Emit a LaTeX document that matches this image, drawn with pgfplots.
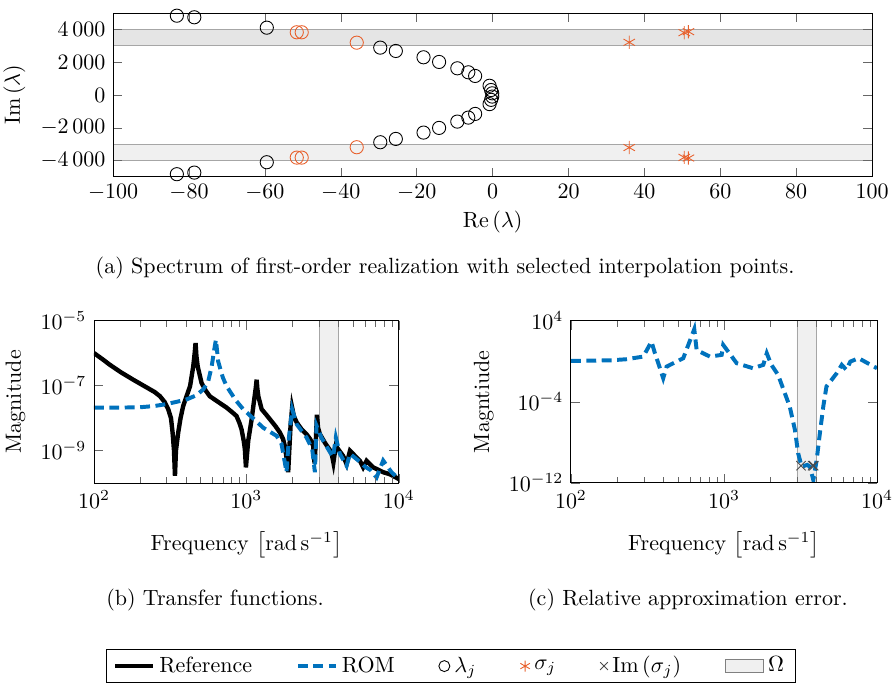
\documentclass[border=0pt]{standalone}
\usepackage{pgfplots}
\pgfplotsset{compat=1.18}
\definecolor{romblue}{HTML}{0072BD}
\definecolor{selorange}{HTML}{E8602C}

\pgfplotsset{
  every axis/.append style={scale only axis, tick style={black!60}, axis on top},
  refline/.style={black, line width=2pt},
  romline/.style={romblue, line width=1.8pt, dash pattern=on 4.5pt off 2.5pt},
}

\begin{document}
\begin{tikzpicture}
\path[use as bounding box] (0,0) rectangle (406.8pt,-311.4pt);

% (a) spectrum
\begin{axis}[
    at={(51.4pt,-80.4pt)}, anchor=south west,
    width=345pt, height=74.5pt,
    xmin=-100, xmax=100, ymin=-5000, ymax=5000,
    xtick={-100,-80,...,100}, ytick={-4000,-2000,...,4000},
    scaled y ticks=false,
    /pgf/number format/1000 sep={\,},
    xlabel={$\mathrm{Re}\left(\lambda\right)$},
    ylabel={$\mathrm{Im}\left(\lambda\right)$},
    xlabel style={yshift=2pt},
]
\addplot[draw=gray!70, fill=gray!20, forget plot]
  coordinates {(-100,3000) (100,3000) (100,4000) (-100,4000) (-100,3000)};
\addplot[draw=gray!70, fill=gray!12, forget plot]
  coordinates {(-100,-4000) (100,-4000) (100,-3000) (-100,-3000) (-100,-4000)};
\addplot[only marks, mark=o, mark size=3pt, black, forget plot] coordinates {
  (-83.2,4835) (-78.6,4738) (-59.5,4104) (-29.6,2886) (-25.5,2683)
  (-18.2,2297) (-14.1,2012) (-9.3,1626) (-6.4,1382) (-4.6,1158)
  (-0.8,560) (-0.4,300) (-0.1,100)
  (-83.2,-4835) (-78.6,-4738) (-59.5,-4104) (-29.6,-2886) (-25.5,-2683)
  (-18.2,-2297) (-14.1,-2012) (-9.3,-1626) (-6.4,-1382) (-4.6,-1158)
  (-0.8,-560) (-0.4,-300) (-0.1,-100)
};
\addplot[only marks, mark=o, mark size=3pt, selorange, forget plot] coordinates {
  (-51.6,3823) (-50.3,3823) (-35.8,3190)
  (-51.6,-3823) (-50.3,-3823) (-35.8,-3190)
};
\addplot[only marks, mark=asterisk, mark size=3pt, selorange, forget plot] coordinates {
  (51.6,3860) (50.5,3800) (36.0,3210)
  (51.6,-3850) (50.5,-3810) (36.0,-3210)
};
\end{axis}
\node at (202.3pt,-121.8pt) {(a) Spectrum of first-order realization with selected interpolation points.};

% (b) transfer functions
\begin{axis}[
    at={(42.7pt,-219.5pt)}, anchor=south west,
    width=138.6pt, height=73.8pt,
    xmode=log, ymode=log,
    xmin=100, xmax=10000, ymin=1e-10, ymax=1e-5,
    ytick={1e-9,1e-7,1e-5}, yminorticks=false,
    xlabel={Frequency $\left[\mathrm{rad}\,\mathrm{s}^{-1}\right]$},
    ylabel={Magnitude},
    xlabel style={yshift=-3.5pt},
    legend columns=6,
    legend style={at={(1.170,-1.128)}, anchor=center, font=\normalsize,
      draw=black, inner ysep=1pt, inner xsep=3pt,
      /tikz/every even column/.append style={column sep=18pt}},
]
\addplot[draw=gray!70, fill=gray!12, forget plot]
  coordinates {(3000,1e-10) (4000,1e-10) (4000,1e-5) (3000,1e-5) (3000,1e-10)};
\addplot[refline, forget plot] coordinates {
  (100,1.0e-6) (113,6.61e-7) (127,4.37e-7) (150,2.57e-7) (181,1.51e-7)
  (220,8.91e-8) (250,6.31e-8) (271,4.68e-8) (290,3.16e-8) (307,1.86e-8)
  (320,1.0e-8) (328,3.55e-9) (335,1.0e-9) (340,1.66e-10) (345,1.0e-9)
  (357,3.55e-9) (370,1.0e-8) (385,2.34e-8) (405,4.68e-8) (427,9.55e-8)
  (448,3.89e-7) (458,1.0e-6) (464,2.04e-6) (470,7.94e-7) (479,3.89e-7)
  (508,1.20e-7) (540,7.08e-8) (575,4.68e-8) (650,3.16e-8) (741,2.09e-8)
  (820,1.41e-8) (861,1.15e-8) (900,7.08e-9) (929,4.47e-9) (960,2.0e-9)
  (977,1.10e-9) (993,3.02e-10) (1010,7.94e-10) (1028,2.0e-9) (1082,9.12e-9)
  (1120,3.16e-8) (1150,7.94e-8) (1167,1.51e-7) (1180,7.94e-8) (1197,4.68e-8)
  (1259,1.86e-8) (1350,1.26e-8) (1427,9.12e-9) (1550,5.62e-9) (1660,3.55e-9)
  (1740,2.24e-9) (1786,1.38e-9) (1830,6.31e-10) (1879,2.14e-10) (1920,1.58e-9)
  (1950,6.31e-9) (1995,2.09e-8) (2050,1.12e-8) (2140,7.24e-9) (2300,4.47e-9)
  (2480,3.16e-9) (2620,2.24e-9) (2740,1.41e-9) (2800,3.98e-10) (2860,2.51e-9)
  (2900,1.26e-8) (2950,5.01e-9) (3035,3.16e-9) (3270,1.74e-9) (3610,8.71e-10)
  (3720,4.27e-10) (3860,1.38e-9) (4310,6.76e-10) (4540,3.80e-10) (4780,9.77e-10)
  (5550,4.79e-10) (5830,3.02e-10) (6140,4.79e-10) (6790,3.02e-10) (7890,2.14e-10)
  (8710,1.86e-10) (10000,1.32e-10)
};
\addplot[romline, forget plot] coordinates {
  (100,2.09e-8) (150,2.09e-8) (200,2.14e-8) (250,2.34e-8) (300,2.69e-8)
  (350,3.16e-8) (405,3.72e-8) (470,5.01e-8) (521,7.59e-8) (560,1.26e-7)
  (592,3.89e-7) (615,1.26e-6) (631,2.57e-6) (653,5.50e-7) (700,1.78e-7)
  (741,9.55e-8) (850,3.55e-8) (953,1.86e-8) (1100,1.0e-8) (1289,5.01e-9)
  (1578,2.82e-9) (1700,1.58e-9) (1833,2.14e-10) (1900,2.51e-9) (1995,1.86e-8)
  (2140,6.31e-9) (2480,2.51e-9) (2700,1.12e-9) (2813,2.14e-10) (2884,5.75e-9)
  (3100,2.51e-9) (3530,8.91e-10) (3700,6.31e-10) (3860,2.51e-9) (4100,7.94e-10)
  (4540,3.39e-10) (4780,7.94e-10) (5550,4.47e-10) (6000,3.16e-10) (6500,2.51e-10)
  (7140,1.48e-10) (7890,4.90e-10) (8950,2.14e-10) (10000,1.32e-10)
};
\addlegendimage{refline}
\addlegendentry{Reference}
\addlegendimage{romline}
\addlegendentry{ROM}
\addlegendimage{only marks, mark=o, black, mark size=2.5pt}
\addlegendentry{$\lambda_j$}
\addlegendimage{only marks, mark=asterisk, selorange, mark size=2.5pt}
\addlegendentry{$\sigma_j$}
\addlegendimage{only marks, mark=x, black!70, mark size=2.5pt}
\addlegendentry{$\mathrm{Im}\left(\sigma_j\right)$}
\addlegendimage{area legend, fill=gray!12, draw=gray}
\addlegendentry{$\Omega$}
\end{axis}
\node at (97.7pt,-272.7pt) {(b) Transfer functions.};

% (c) relative error
\begin{axis}[
    at={(259.5pt,-219.5pt)}, anchor=south west,
    width=139.1pt, height=73.8pt,
    xmode=log, ymode=log,
    xmin=100, xmax=10000, ymin=1e-12, ymax=1e4,
    ytick={1e-12,1e-4,1e4}, yminorticks=false,
    xlabel={Frequency $\left[\mathrm{rad}\,\mathrm{s}^{-1}\right]$},
    ylabel={Magntiude},
    xlabel style={yshift=-3.5pt},
]
\addplot[draw=gray!70, fill=gray!12, forget plot]
  coordinates {(3000,1e-12) (4000,1e-12) (4000,1e4) (3000,1e4) (3000,1e-12)};
\addplot[romline, forget plot] coordinates {
  (100,1.05) (180,1.2) (231,1.55) (297,2.82) (336,85) (354,6.0)
  (401,0.021) (422,0.29) (542,1.95) (640,1413) (663,12.6) (809,2.82)
  (966,4.17) (989,39.8) (1211,0.63) (1549,0.2) (1807,0.43) (1905,6.0)
  (2042,0.43) (2259,0.044) (2692,3.3e-5) (2911,1.66e-7) (3055,8.3e-10)
  (3220,4.0e-11) (3500,6e-11) (3648,4.0e-11) (3837,2.0e-12) (4036,1.82e-10)
  (4236,7.9e-8) (4457,3.3e-5) (4677,3.2e-3) (5458,0.065) (5888,0.43)
  (6310,0.14) (6699,0.91) (7586,1.95) (10000,0.2)
};
\addplot[only marks, mark=x, mark size=3pt, black!70, forget plot]
  coordinates {(3190,5e-11) (3800,5e-11) (3860,5e-11)};
\end{axis}
\node at (312.7pt,-272.7pt) {(c) Relative approximation error.};
\end{tikzpicture}
\end{document}
